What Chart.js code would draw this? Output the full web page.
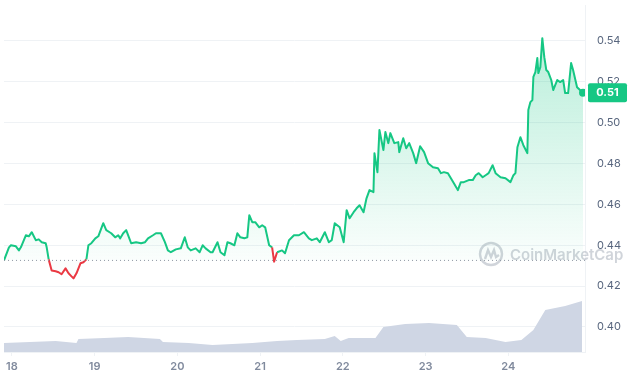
<!DOCTYPE html>
<html><head><meta charset="utf-8">
<script src="https://cdn.jsdelivr.net/npm/chart.js@4.4.1/dist/chart.umd.min.js"></script>
<style>html,body{margin:0;padding:0;background:#fff;overflow:hidden}</style>
</head><body>
<canvas id="c" width="630" height="380"></canvas>
<script>
// Day-of-month (fractional) for each price sample
const priceTimes = [17.904,17.964,17.988,18.048,18.084,18.108,18.168,18.204,18.240,18.288,18.324,18.360,18.408,18.420,18.444,18.480,18.528,18.564,18.600,18.648,18.684,18.720,18.744,18.780,18.828,18.864,18.900,18.924,18.960,19.008,19.044,19.104,19.140,19.200,19.248,19.285,19.309,19.345,19.381,19.405,19.441,19.501,19.561,19.609,19.645,19.705,19.741,19.801,19.849,19.885,19.921,19.981,20.041,20.089,20.125,20.161,20.221,20.269,20.305,20.341,20.401,20.425,20.485,20.521,20.569,20.605,20.641,20.689,20.725,20.761,20.809,20.845,20.869,20.905,20.941,20.989,21.025,21.061,21.109,21.145,21.169,21.205,21.265,21.301,21.349,21.409,21.469,21.529,21.589,21.625,21.685,21.721,21.782,21.830,21.866,21.902,21.962,22.010,22.046,22.082,22.130,22.166,22.202,22.250,22.286,22.322,22.370,22.382,22.418,22.442,22.490,22.514,22.550,22.574,22.622,22.670,22.682,22.730,22.766,22.802,22.850,22.886,22.934,22.982,23.030,23.090,23.150,23.186,23.222,23.270,23.306,23.342,23.390,23.426,23.462,23.522,23.570,23.606,23.642,23.690,23.726,23.762,23.810,23.846,23.906,23.966,24.026,24.062,24.086,24.110,24.146,24.182,24.230,24.242,24.267,24.291,24.303,24.327,24.351,24.363,24.387,24.411,24.435,24.459,24.483,24.519,24.543,24.591,24.627,24.663,24.687,24.723,24.759,24.783,24.831,24.867,24.903];
// Price in USD
const prices = [0.4326,0.4390,0.4400,0.4395,0.4375,0.4390,0.4449,0.4444,0.4464,0.4425,0.4429,0.4415,0.4410,0.4390,0.4331,0.4277,0.4273,0.4268,0.4258,0.4287,0.4263,0.4248,0.4238,0.4263,0.4312,0.4317,0.4331,0.4400,0.4410,0.4434,0.4444,0.4508,0.4474,0.4459,0.4439,0.4449,0.4434,0.4459,0.4474,0.4449,0.4410,0.4415,0.4410,0.4415,0.4434,0.4449,0.4459,0.4459,0.4415,0.4375,0.4366,0.4380,0.4385,0.4439,0.4390,0.4375,0.4385,0.4366,0.4400,0.4385,0.4366,0.4366,0.4415,0.4366,0.4351,0.4415,0.4410,0.4400,0.4459,0.4439,0.4434,0.4439,0.4547,0.4513,0.4513,0.4488,0.4498,0.4488,0.4400,0.4390,0.4320,0.4366,0.4375,0.4361,0.4425,0.4449,0.4449,0.4464,0.4434,0.4425,0.4434,0.4415,0.4464,0.4415,0.4425,0.4508,0.4488,0.4415,0.4572,0.4532,0.4562,0.4581,0.4596,0.4562,0.4630,0.4670,0.4660,0.4851,0.4758,0.4964,0.4866,0.4954,0.4900,0.4949,0.4900,0.4905,0.4856,0.4924,0.4875,0.4900,0.4851,0.4802,0.4885,0.4856,0.4802,0.4782,0.4777,0.4753,0.4758,0.4753,0.4728,0.4704,0.4670,0.4709,0.4709,0.4719,0.4719,0.4743,0.4753,0.4733,0.4743,0.4753,0.4792,0.4753,0.4733,0.4728,0.4709,0.4743,0.4753,0.4880,0.4929,0.4890,0.4851,0.5062,0.5101,0.5111,0.5224,0.5248,0.5317,0.5243,0.5272,0.5414,0.5321,0.5258,0.5248,0.5209,0.5160,0.5209,0.5199,0.5209,0.5145,0.5145,0.5292,0.5258,0.5174,0.5160,0.5147];
// Trading volume (USD millions)
const volumeTimes = [17.904,18.528,18.780,18.804,19.116,19.405,19.789,19.825,20.137,20.425,20.905,21.205,21.445,21.782,21.902,21.974,22.070,22.394,22.490,22.754,23.042,23.378,23.498,23.726,23.966,24.158,24.303,24.447,24.687,24.891];
const volumes = [9,11,9,13,14,15,13,10,9,7,9,11,12,13,16,11,14,14,25,28,29,27,15,14,10,12,22,42,46,51];
const dayTicks = [18,19,20,21,22,23,24];
const priceTicks = [0.40,0.42,0.44,0.46,0.48,0.50,0.52,0.54];
const openPrice = prices[0];

const GREEN = '#16c784', RED = '#ea3943';
const xMin = 17.904, xMax = 24.927;

const priceData = priceTimes.map((t,i)=>({x:t,y:prices[i]}));
const volData = volumeTimes.map((t,i)=>({x:t,y:volumes[i]}));
const baseData = [{x:xMin,y:openPrice},{x:xMax,y:openPrice}];
const lastIdx = prices.length-1;

const watermark = {
  id:'watermark',
  beforeDatasetsDraw(chart){
    const {ctx, chartArea:a} = chart;
    ctx.save();
    const cx = a.right - 94, cy = a.bottom - 98;
    ctx.strokeStyle = 'rgba(170,176,188,0.55)';
    ctx.lineWidth = 2.4;
    ctx.beginPath(); ctx.arc(cx, cy, 11, 0, Math.PI*2); ctx.stroke();
    ctx.beginPath();
    ctx.moveTo(cx-6, cy+5);
    ctx.lineTo(cx-3, cy-4); ctx.lineTo(cx, cy+3); ctx.lineTo(cx+3, cy-4); ctx.lineTo(cx+5, cy+3); ctx.lineTo(cx+8, cy+1);
    ctx.stroke();
    ctx.fillStyle = 'rgba(170,176,188,0.55)';
    ctx.font = '600 15px Inter, "Noto Sans", sans-serif';
    ctx.textBaseline = 'alphabetic';
    ctx.fillText('CoinMarketCap', cx + 19, cy + 6);
    ctx.restore();
  }
};

const priceTag = {
  id:'priceTag',
  afterDraw(chart){
    const {ctx, chartArea:a} = chart;
    const y = chart.scales.y.getPixelForValue(prices[lastIdx]);
    ctx.save();
    ctx.fillStyle = GREEN;
    const x0 = a.right + 3, w = 39, h = 19;
    ctx.beginPath();
    ctx.roundRect ? ctx.roundRect(x0, y - h/2, w, h, 2) : ctx.rect(x0, y-h/2, w, h);
    ctx.fill();
    ctx.fillStyle = '#fff';
    ctx.font = 'bold 11px Inter, "Noto Sans", sans-serif';
    ctx.textAlign = 'center'; ctx.textBaseline = 'middle';
    ctx.fillText(prices[lastIdx].toFixed(2), x0 + w/2, y + 0.5);
    ctx.restore();
  }
};

new Chart(document.getElementById('c'), {
  type:'line',
  data:{datasets:[
    {
      label:'Price', data:priceData, yAxisID:'y', order:1,
      borderColor:GREEN, borderWidth:2, tension:0, borderJoinStyle:'round',
      pointRadius: ctx => ctx.dataIndex === lastIdx ? 4 : 0,
      pointBackgroundColor: GREEN, pointBorderWidth:0,
      segment:{borderColor: ctx => (ctx.p0.parsed.y < openPrice || ctx.p1.parsed.y < openPrice) ? RED : GREEN},
      fill:{target:{value:openPrice}},
      backgroundColor: ctx => {
        const c = ctx.chart, a = c.chartArea;
        if(!a || !c.scales.y) return 'rgba(22,199,132,0.12)';
        const yb = c.scales.y.getPixelForValue(openPrice);
        const g = c.ctx.createLinearGradient(0, a.top + 30, 0, yb);
        g.addColorStop(0, 'rgba(22,199,132,0.30)');
        g.addColorStop(1, 'rgba(22,199,132,0.02)');
        return g;
      }
    },
    {
      label:'Open', data:baseData, yAxisID:'y', order:0,
      borderColor:'#8f96a3', borderWidth:1, borderDash:[1,3], pointRadius:0, fill:false
    },
    {
      label:'Volume', data:volData, yAxisID:'yv', order:2,
      borderWidth:0, borderColor:'rgba(0,0,0,0)', backgroundColor:'#cfd6e4', pointRadius:0, tension:0, fill:'origin'
    }
  ]},
  options:{
    responsive:false, animation:false, devicePixelRatio:1,
    layout:{padding:{top:5,left:0,right:0,bottom:0}},
    plugins:{legend:{display:false}, tooltip:{enabled:false}},
    scales:{
      x:{
        type:'linear', min:xMin, max:xMax,
        afterBuildTicks: s => { s.ticks = dayTicks.map(v=>({value:v})); },
        afterFit: s => { s.height = 28; s.paddingLeft = 0; s.paddingRight = 0; },
        ticks:{callback: v => String(v), color:'#808a9d', font:{family:'Inter', size:11, weight:'600'}, padding:4, maxRotation:0, autoSkip:false},
        grid:{drawOnChartArea:false, drawTicks:true, tickLength:4, color:'#eff2f5'},
        border:{display:true, color:'#eff2f5'}
      },
      y:{
        position:'right', min:0.38776, max:0.55762,
        afterBuildTicks: s => { s.ticks = priceTicks.map(v=>({value:v})); },
        afterFit: s => { s.width = 45; s.paddingTop = 0; s.paddingBottom = 0; },
        ticks:{callback: v => v.toFixed(2), color:'#58667e', font:{family:'Inter', size:11}, padding:12},
        grid:{color:'#eff2f5', drawTicks:false},
        border:{display:true, color:'#eff2f5'}
      },
      yv:{display:false, min:0, max:347}
    }
  },
  plugins:[watermark, priceTag]
});
</script>
</body></html>
